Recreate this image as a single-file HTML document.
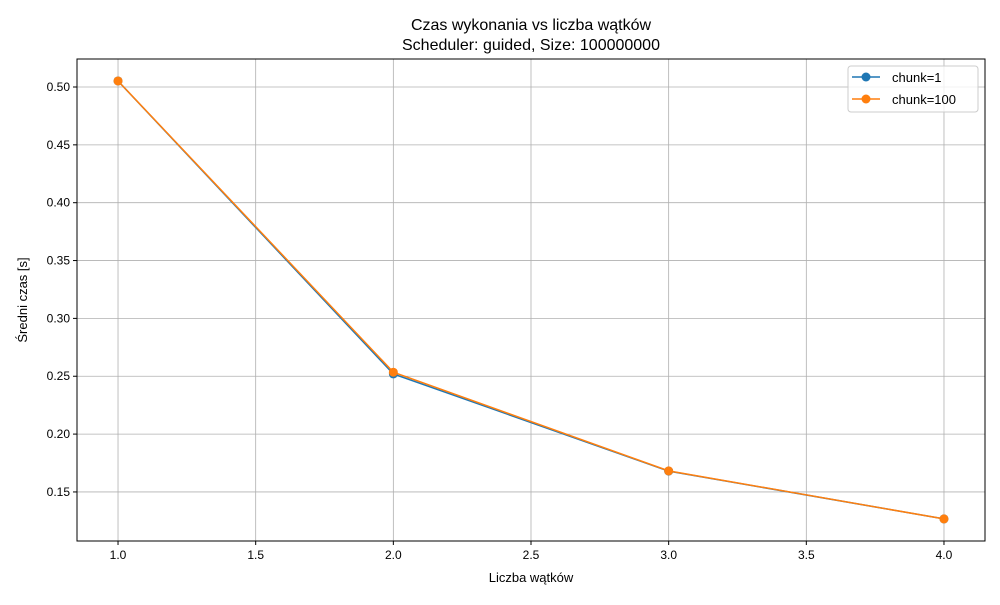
<!DOCTYPE html>
<html><head><meta charset="utf-8"><style>
body{margin:0;background:#fff;}
svg{font-family:"Liberation Sans","DejaVu Sans",sans-serif;}
</style></head><body>
<svg id="chart" width="1000" height="600" xmlns="http://www.w3.org/2000/svg">
<rect width="1000" height="600" fill="#fff"/>
<text x="531" y="30" font-size="16" text-anchor="middle">Czas wykonania vs liczba wątków</text>
<text x="531" y="50" font-size="16" text-anchor="middle">Scheduler: guided, Size: 100000000</text>
<g id="grid"></g>
<g id="axes"></g>
<g id="series"></g>
<rect x="77" y="59" width="908" height="482" fill="none" stroke="#000" stroke-width="1"/>
<text x="531" y="582" font-size="13" text-anchor="middle">Liczba wątków</text>
<text transform="translate(27,300) rotate(-90)" font-size="13" text-anchor="middle">Średni czas [s]</text>
<g>
<rect x="848" y="66" width="130" height="46" rx="3" fill="#fff" fill-opacity="0.8" stroke="#ccc"/>
<g>
<line x1="852" y1="77" x2="880" y2="77" stroke="#1f77b4" stroke-width="1.5"/><circle cx="866" cy="77" r="4.5" fill="#1f77b4"/>
<text x="892" y="82" font-size="13">chunk=1</text></g>
<g>
<line x1="852" y1="99" x2="880" y2="99" stroke="#ff7f0e" stroke-width="1.5"/><circle cx="866" cy="99" r="4.5" fill="#ff7f0e"/>
<text x="892" y="104" font-size="13">chunk=100</text></g>
</g>
</svg>
<script>
const threads = [1, 2, 3, 4];
const chunk1 = [0.5052, 0.2520, 0.1680, 0.1267];
const chunk100 = [0.5052, 0.2535, 0.1682, 0.1267];
const xTicks = ["1.0","1.5","2.0","2.5","3.0","3.5","4.0"];
const yTicks = ["0.15","0.20","0.25","0.30","0.35","0.40","0.45","0.50"];
const NS="http://www.w3.org/2000/svg";
const L=77,R=985,T=59,B=541, x0=0.851,x1=4.149,y0=0.1076,y1=0.5242;
const sx=v=>L+(v-x0)/(x1-x0)*(R-L);
const sy=v=>B-(v-y0)/(y1-y0)*(B-T);
function mk(tag,attrs,parent){const e=document.createElementNS(NS,tag);for(const k in attrs)e.setAttribute(k,attrs[k]);parent.appendChild(e);return e;}
const grid=document.getElementById('grid'),axes=document.getElementById('axes'),series=document.getElementById('series');
xTicks.forEach(t=>{const x=sx(+t);
 const g=mk('line',{x1:x,x2:x,y1:T,y2:B,stroke:'#b0b0b0','stroke-width':0.8},grid);
 
 
 mk('line',{x1:x,x2:x,y1:B,y2:B+4,stroke:'#000'},axes);
 const tx=mk('text',{x:x,y:B+18,'font-size':12,'text-anchor':'middle'},axes);tx.textContent=t;
 
 });
yTicks.forEach(t=>{const y=sy(+t);
 const g=mk('line',{x1:L,x2:R,y1:y,y2:y,stroke:'#b0b0b0','stroke-width':0.8},grid);
 
 
 mk('line',{x1:L-4,x2:L,y1:y,y2:y,stroke:'#000'},axes);
 const tx=mk('text',{x:L-7,y:y+4,'font-size':12,'text-anchor':'end'},axes);tx.textContent=t;
 
 });
function draw(vals,color,name){
 const p=mk('polyline',{points:threads.map((t,i)=>sx(t)+','+sy(vals[i])).join(' '),fill:'none',stroke:color,'stroke-width':1.5},series);
 
 
 threads.forEach((t,i)=>{const c=mk('circle',{cx:sx(t),cy:sy(vals[i]),r:4.5,fill:color},series);
  
  });
}
draw(chunk1,'#1f77b4','chunk-1');
draw(chunk100,'#ff7f0e','chunk-100');
</script>
</body></html>
